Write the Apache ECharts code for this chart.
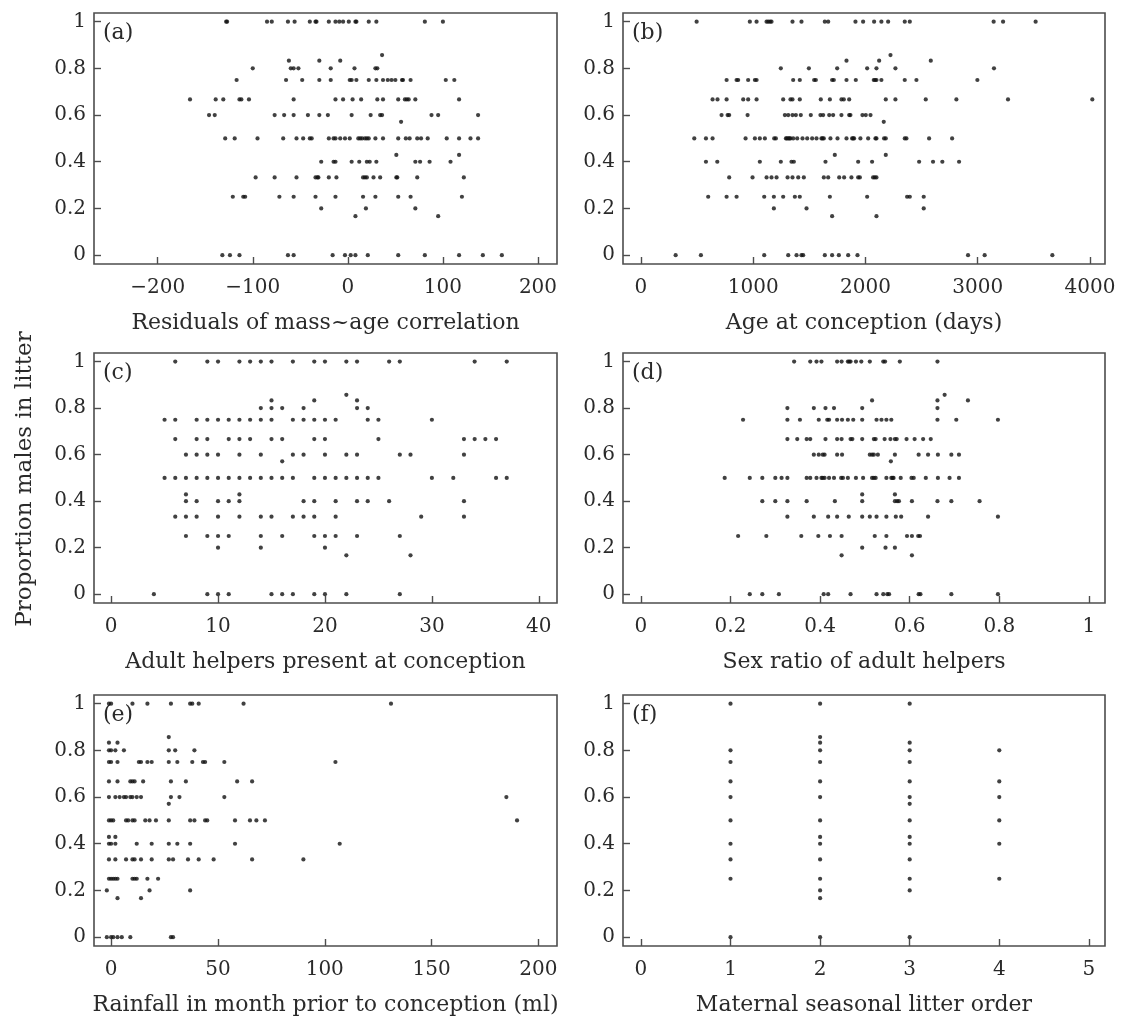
<!DOCTYPE html>
<html>
<head>
<meta charset="utf-8">
<title>Proportion males in litter</title>
<script src="https://cdn.jsdelivr.net/npm/echarts@6/dist/echarts.min.js"></script>
<style>
  html, body { margin: 0; padding: 0; background: #fff; }
  #main { width: 1122px; height: 1021px; }
</style>
</head>
<body>
<div id="main"></div>
<script>
// rows: [proportion males, [x values at that proportion]]
var residRows = [
  [1, [-128, -127, -85, -80, -63, -56, -40, -34, -33, -20, -13, -9, -5, 1, 8, 9, 22, 30, 81, 100]],
  [0.857, [36]],
  [0.833, [-62, -30, -8]],
  [0.8, [-100, -60, -57, -52, -18, 7, 29, 31]],
  [0.75, [-117, -65, -48, -30, -18, 2, 4, 9, 22, 30, 37, 42, 46, 50, 57, 58, 66, 103, 112]],
  [0.667, [-166, -139, -131, -114, -112, -104, -57, -13, -5, 5, 14, 31, 37, 53, 60, 62, 64, 71, 117]],
  [0.6, [-146, -140, -77, -67, -57, -42, -30, -21, 4, 24, 34, 36, 88, 95, 137]],
  [0.571, [56]],
  [0.5, [-129, -119, -95, -68, -54, -47, -40, -38, -20, -15, -13, -8, -3, 2, 11, 13, 15, 18, 20, 22, 29, 37, 53, 61, 65, 73, 77, 84, 104, 117, 129, 137]],
  [0.429, [51, 117]],
  [0.4, [-28, -15, -13, 4, 12, 20, 23, 30, 71, 76, 86, 108]],
  [0.333, [-97, -77, -54, -34, -32, -31, -20, -12, 16, 18, 20, 27, 34, 51, 52, 73, 122]],
  [0.25, [-121, -110, -108, -72, -57, -34, -13, 16, 29, 53, 66, 120]],
  [0.2, [-28, 19, 71]],
  [0.167, [8, 95]],
  [0, [-132, -124, -114, -63, -57, -16, -3, 3, 8, 21, 53, 81, 117, 142, 162]]
];

var ageRows = [
  [1, [496, 970, 1030, 1119, 1134, 1150, 1163, 1350, 1430, 1638, 1668, 1911, 1979, 2077, 2142, 2202, 2350, 2395, 3142, 3226, 3516]],
  [0.857, [2223]],
  [0.833, [1831, 2122, 2582]],
  [0.8, [1246, 1496, 1748, 2015, 2098, 2267, 3145]],
  [0.75, [763, 852, 866, 955, 1015, 1030, 1356, 1415, 1543, 1558, 1703, 1718, 1831, 1914, 2074, 2086, 2098, 2142, 2350, 2454, 2997]],
  [0.667, [638, 682, 763, 911, 955, 1030, 1267, 1332, 1350, 1415, 1602, 1683, 1786, 1807, 1855, 2181, 2267, 2537, 2810, 3270, 4021]],
  [0.6, [718, 772, 786, 950, 1282, 1312, 1350, 1380, 1424, 1513, 1599, 1623, 1677, 1712, 1786, 1855, 1866, 1973, 2003, 2045]],
  [0.571, [2163]],
  [0.5, [475, 579, 638, 932, 1015, 1059, 1104, 1187, 1202, 1291, 1300, 1312, 1322, 1332, 1356, 1392, 1439, 1481, 1525, 1564, 1608, 1618, 1629, 1688, 1751, 1831, 1881, 1890, 1899, 1955, 2024, 2089, 2098, 2166, 2181, 2350, 2365, 2567, 2772]],
  [0.429, [1727, 2181]],
  [0.4, [579, 680, 1059, 1246, 1341, 1362, 1644, 1935, 2059, 2478, 2602, 2685, 2834]],
  [0.333, [786, 994, 1119, 1163, 1208, 1306, 1350, 1401, 1451, 1629, 1668, 1766, 1810, 1875, 1935, 1950, 2068, 2083, 2098]],
  [0.25, [599, 763, 852, 1098, 1184, 1267, 1371, 1415, 1683, 2015, 2371, 2395, 2519]],
  [0.2, [1184, 1475, 2519]],
  [0.167, [1703, 2098]],
  [0, [309, 534, 1098, 1312, 1386, 1430, 1445, 1638, 1703, 1763, 1846, 1929, 2914, 3062, 3665]]
];

var helperRows = [
  [1, [6, 9, 10, 12, 13, 14, 15, 17, 19, 20, 22, 23, 26, 27, 34, 37]],
  [0.857, [22]],
  [0.833, [15, 19, 23]],
  [0.8, [14, 15, 16, 18, 23, 24]],
  [0.75, [5, 6, 8, 9, 10, 11, 12, 13, 14, 15, 17, 18, 19, 20, 21, 24, 25, 30]],
  [0.667, [6, 8, 9, 11, 12, 13, 15, 16, 19, 20, 25, 33, 34, 35, 36]],
  [0.6, [7, 8, 9, 10, 12, 14, 17, 18, 20, 22, 23, 27, 28, 33]],
  [0.571, [16]],
  [0.5, [5, 6, 7, 8, 9, 10, 11, 12, 13, 14, 15, 16, 17, 19, 20, 21, 22, 23, 24, 25, 30, 32, 36, 37]],
  [0.429, [7, 12]],
  [0.4, [7, 8, 10, 11, 12, 18, 19, 21, 23, 24, 26, 33]],
  [0.333, [6, 7, 8, 10, 12, 14, 15, 17, 18, 19, 21, 29, 33]],
  [0.25, [7, 9, 10, 11, 14, 16, 19, 20, 21, 23, 27]],
  [0.2, [10, 14, 20]],
  [0.167, [22, 28]],
  [0, [4, 9, 10, 11, 15, 16, 17, 19, 20, 22, 27]]
];

var sexRatioRows = [
  [1, [0.342, 0.378, 0.392, 0.403, 0.438, 0.448, 0.462, 0.465, 0.468, 0.48, 0.492, 0.511, 0.541, 0.545, 0.578, 0.662]],
  [0.857, [0.678]],
  [0.833, [0.516, 0.662, 0.73]],
  [0.8, [0.327, 0.386, 0.412, 0.431, 0.494, 0.662]],
  [0.75, [0.228, 0.327, 0.355, 0.397, 0.416, 0.42, 0.438, 0.449, 0.462, 0.474, 0.494, 0.526, 0.537, 0.548, 0.559, 0.662, 0.704, 0.797]],
  [0.667, [0.327, 0.349, 0.37, 0.378, 0.412, 0.438, 0.448, 0.468, 0.472, 0.494, 0.52, 0.524, 0.544, 0.557, 0.567, 0.571, 0.593, 0.611, 0.63, 0.647]],
  [0.6, [0.386, 0.397, 0.406, 0.41, 0.438, 0.449, 0.511, 0.516, 0.52, 0.529, 0.567, 0.62, 0.641, 0.663, 0.693, 0.71]],
  [0.571, [0.558]],
  [0.5, [0.187, 0.243, 0.271, 0.3, 0.314, 0.327, 0.37, 0.378, 0.392, 0.403, 0.406, 0.41, 0.42, 0.431, 0.447, 0.451, 0.462, 0.48, 0.496, 0.516, 0.52, 0.524, 0.548, 0.559, 0.562, 0.564, 0.58, 0.604, 0.609, 0.636, 0.663, 0.689, 0.71]],
  [0.429, [0.494, 0.567]],
  [0.4, [0.271, 0.3, 0.327, 0.37, 0.433, 0.494, 0.567, 0.572, 0.576, 0.605, 0.662, 0.693, 0.756]],
  [0.333, [0.327, 0.386, 0.418, 0.438, 0.464, 0.494, 0.511, 0.526, 0.548, 0.569, 0.581, 0.641, 0.797]],
  [0.25, [0.217, 0.28, 0.358, 0.396, 0.422, 0.448, 0.522, 0.548, 0.594, 0.605, 0.619, 0.623]],
  [0.2, [0.494, 0.546, 0.567]],
  [0.167, [0.448, 0.605]],
  [0, [0.243, 0.271, 0.308, 0.408, 0.418, 0.468, 0.526, 0.541, 0.55, 0.554, 0.62, 0.624, 0.693, 0.797]]
];

var rainRows = [
  [1, [-1, 0, 10, 17, 28, 37, 38, 41, 62, 131]],
  [0.857, [27]],
  [0.833, [-1, 3]],
  [0.8, [-1, 0, 2, 6, 27, 30, 39]],
  [0.75, [-1, 0, 3, 13, 14, 17, 19, 27, 31, 38, 43, 44, 53, 105]],
  [0.667, [-1, 3, 9, 10, 11, 15, 28, 35, 59, 66]],
  [0.6, [-1, 2, 4, 6, 7, 9, 10, 12, 14, 28, 32, 53, 185]],
  [0.571, [27]],
  [0.5, [-1, 0, 1, 7, 8, 10, 11, 16, 18, 21, 27, 37, 39, 44, 45, 58, 65, 68, 72, 190]],
  [0.429, [-1, 2]],
  [0.4, [-1, 0, 2, 12, 19, 27, 31, 37, 58, 107]],
  [0.333, [-1, 2, 7, 10, 11, 14, 19, 27, 29, 36, 41, 48, 66, 90]],
  [0.25, [-1, 0, 1, 2, 3, 10, 11, 12, 17, 22]],
  [0.2, [-2, 18, 37]],
  [0.167, [3, 14]],
  [0, [-2, 0, 1, 3, 5, 9, 28, 29]]
];

// columns: [litter order, [proportions seen at that order]]
var litterCols = [
  [1, [1, 0.8, 0.75, 0.667, 0.6, 0.5, 0.4, 0.333, 0.25, 0]],
  [2, [1, 0.857, 0.833, 0.8, 0.75, 0.667, 0.6, 0.5, 0.429, 0.4, 0.333, 0.25, 0.2, 0.167, 0]],
  [3, [1, 0.833, 0.8, 0.75, 0.667, 0.6, 0.571, 0.5, 0.429, 0.4, 0.333, 0.25, 0.2, 0]],
  [4, [0.8, 0.667, 0.6, 0.5, 0.4, 0.25]]
];

var yTicks = [0, 0.2, 0.4, 0.6, 0.8, 1];
var residTicks = [-200, -100, 0, 100, 200];
var ageTicks = [0, 1000, 2000, 3000, 4000];
var helperTicks = [0, 10, 20, 30, 40];
var sexRatioTicks = [0, 0.2, 0.4, 0.6, 0.8, 1];
var rainTicks = [0, 50, 100, 150, 200];
var litterTicks = [0, 1, 2, 3, 4, 5];

var xNames = [
  'Residuals of mass~age correlation',
  'Age at conception (days)',
  'Adult helpers present at conception',
  'Sex ratio of adult helpers',
  'Rainfall in month prior to conception (ml)',
  'Maternal seasonal litter order'
];
var panelLetters = ['(a)', '(b)', '(c)', '(d)', '(e)', '(f)'];

function fromRows(rows) {
  var out = [];
  rows.forEach(function (r) {
    r[1].forEach(function (x) { out.push([x, r[0]]); });
  });
  return out;
}
function fromCols(cols) {
  var out = [];
  cols.forEach(function (c) {
    c[1].forEach(function (y) { out.push([c[0], y]); });
  });
  return out;
}

var FONT = 'DejaVu Serif';
var INK = '#2a2a2a';
var FRAME = '#4d4d4d';

var grids = [
  {left: 94, top: 13, width: 463, height: 251},
  {left: 623, top: 13, width: 482, height: 251},
  {left: 94, top: 353, width: 463, height: 250},
  {left: 623, top: 353, width: 482, height: 250},
  {left: 94, top: 695, width: 463, height: 251},
  {left: 623, top: 695, width: 482, height: 251}
];
var xRanges = [[-267, 220], [-160, 4134], [-1.6, 41.7], [-0.04, 1.036], [-8, 208.7], [-0.2, 5.18]];
var xTickSets = [residTicks, ageTicks, helperTicks, sexRatioTicks, rainTicks, litterTicks];
var seriesData = [fromRows(residRows), fromRows(ageRows), fromRows(helperRows),
  fromRows(sexRatioRows), fromRows(rainRows), fromCols(litterCols)];

function numLabel(v) {
  var s = String(Math.round(v * 1000) / 1000);
  return v < 0 ? '\u2212' + s.slice(1) : s;
}

var myChart = echarts.init(document.getElementById('main'));

var option = {
  backgroundColor: '#fff',
  animation: false,
  grid: grids.map(function (g) {
    return {left: g.left, top: g.top, width: g.width, height: g.height,
      show: true, borderColor: FRAME, borderWidth: 1.6, backgroundColor: 'transparent'};
  }),
  xAxis: grids.map(function (g, i) {
    return {
      type: 'value', gridIndex: i,
      min: xRanges[i][0], max: xRanges[i][1],
      name: xNames[i], nameLocation: 'middle', nameGap: 48,
      nameTextStyle: {fontFamily: FONT, fontSize: 22, color: INK},
      axisLine: {show: false, onZero: false},
      axisTick: {show: true, inside: true, length: 7, customValues: xTickSets[i],
        lineStyle: {color: FRAME, width: 1.4}},
      axisLabel: {customValues: xTickSets[i], margin: 14, formatter: numLabel,
        fontFamily: FONT, fontSize: 20, color: INK},
      splitLine: {show: false}
    };
  }),
  yAxis: grids.map(function (g, i) {
    return {
      type: 'value', gridIndex: i,
      min: -0.038, max: 1.037,
      axisLine: {show: false, onZero: false},
      axisTick: {show: true, inside: true, length: 7, customValues: yTicks,
        lineStyle: {color: FRAME, width: 1.4}},
      axisLabel: {customValues: yTicks, margin: 8, formatter: numLabel,
        fontFamily: FONT, fontSize: 20, color: INK},
      splitLine: {show: false}
    };
  }),
  series: seriesData.map(function (d, i) {
    return {
      type: 'scatter', xAxisIndex: i, yAxisIndex: i,
      data: d, symbol: 'circle', symbolSize: 4.2,
      itemStyle: {color: '#111'},
      silent: true
    };
  }),
  graphic: panelLetters.map(function (t, i) {
    return {
      type: 'text', left: grids[i].left + 9, top: grids[i].top + 9,
      style: {text: t, font: '22px "' + FONT + '"', fill: INK}
    };
  }).concat([{
    type: 'text', x: 25, y: 479, rotation: Math.PI / 2,
    style: {text: 'Proportion males in litter', font: '23px "' + FONT + '"', fill: INK,
      textAlign: 'center', textVerticalAlign: 'middle'}
  }])
};

myChart.setOption(option);
window.onresize = function () { myChart.resize(); };
</script>
</body>
</html>
